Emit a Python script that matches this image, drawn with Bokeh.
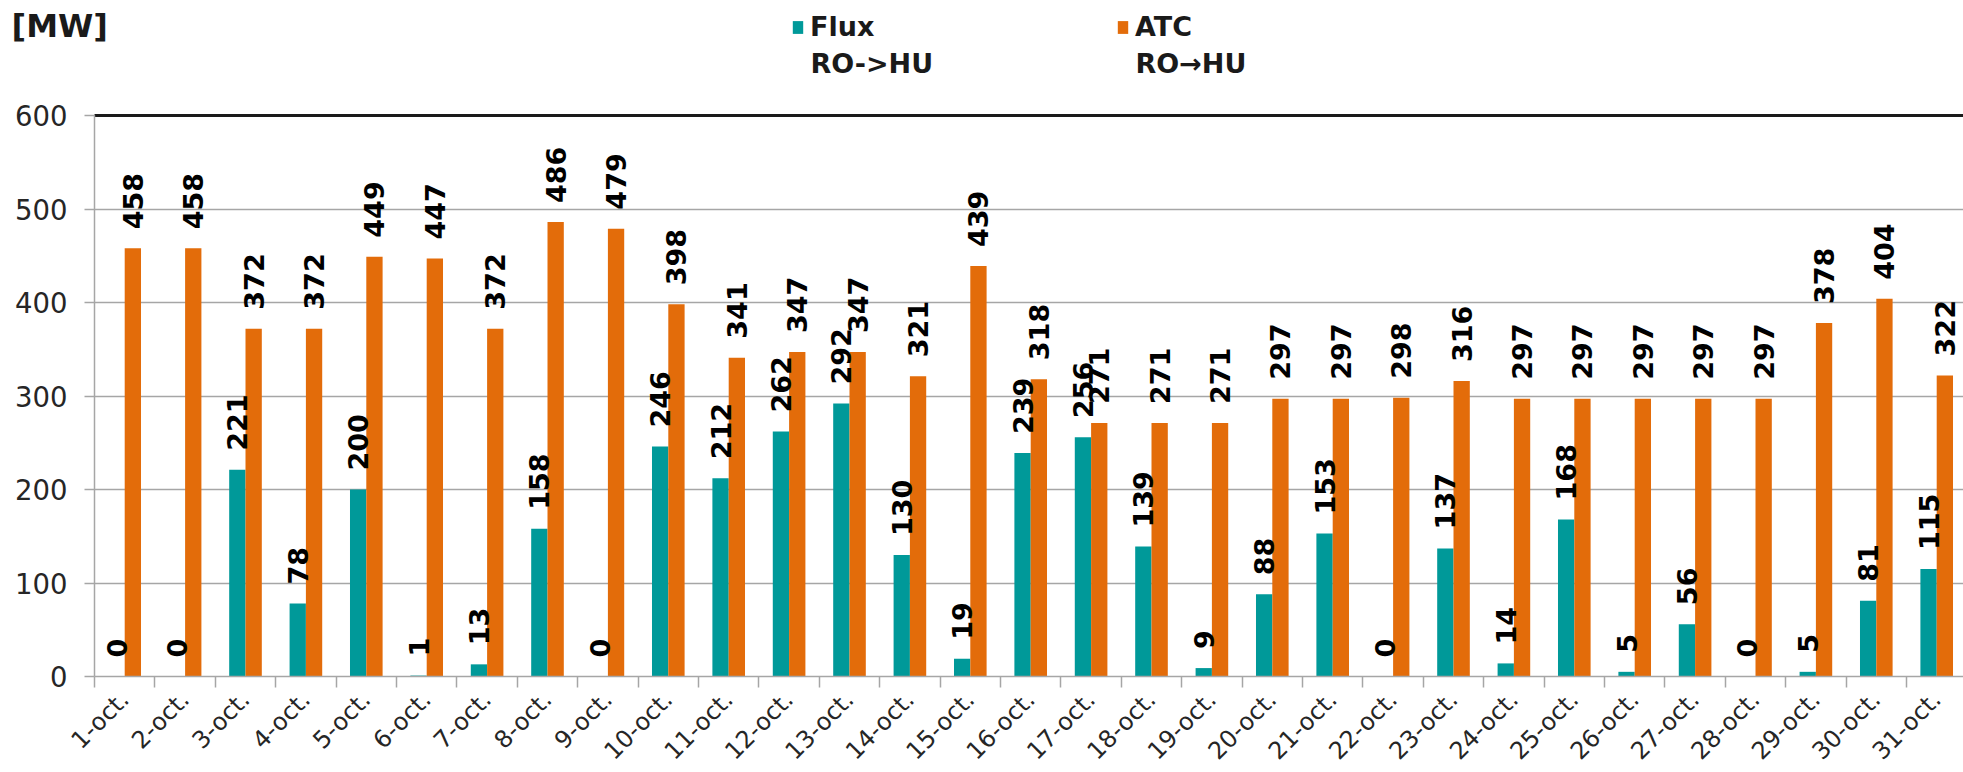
import math
from bokeh.plotting import figure
from bokeh.models import (Range1d, FixedTicker, Label, LabelSet,
                          ColumnDataSource, Legend, LegendItem)
from bokeh.core.properties import value
from bokeh.transform import dodge
from bokeh.embed import file_html
from bokeh.resources import INLINE

# ---- data ----
days = [f"{d}-oct." for d in range(1, 32)]
flux = [0, 0, 221, 78, 200, 1, 13, 158, 0, 246, 212, 262, 292, 130, 19, 239,
        256, 139, 9, 88, 153, 0, 137, 14, 168, 5, 56, 0, 5, 81, 115]
atc = [458, 458, 372, 372, 449, 447, 372, 486, 479, 398, 341, 347, 347, 321,
       439, 318, 271, 271, 271, 297, 297, 298, 316, 297, 297, 297, 297, 297,
       378, 404, 322]
y_ticks = [0, 100, 200, 300, 400, 500, 600]
unit_label = "[MW]"
series_names = ["Flux", "ATC"]
series_dirs = ["RO->HU", "RO\u2192HU"]

TEAL = "#009999"
ORANGE = "#E36C0A"
GRAY = "#A6A6A6"
FONT = "DejaVu Sans"
W, H = 1963, 772

n = len(days)
xc = [i + 0.5 for i in range(n)]
src = ColumnDataSource(dict(x=xc, day=days, flux=flux, atc=atc,
                            flux_lbl=[str(v) for v in flux],
                            atc_lbl=[str(v) for v in atc]))

# frame covers the whole canvas; axes are pinned at x=0 / y=0
px_per_cat = 60.4
x0_px = 94.0
px_per_mw = 561.0 / 600.0
y0_px = 96.0  # distance of y=0 from the bottom edge
x_start = -x0_px / px_per_cat
y_start = -y0_px / px_per_mw
p = figure(width=W, height=H, output_backend="svg", toolbar_location=None,
           x_range=Range1d(x_start, x_start + W / px_per_cat),
           y_range=Range1d(y_start, y_start + H / px_per_mw),
           min_border=0)
p.title.visible = False
p.outline_line_color = None
p.background_fill_color = "white"
p.border_fill_color = "white"

# horizontal grid lines limited to the plot area
grid_src = ColumnDataSource(dict(y=y_ticks[1:-1], x0=[0] * 5, x1=[n] * 5))
try:
    p.ygrid.cross_bounds = (0, n)
    p.ygrid.ticker = FixedTicker(ticks=y_ticks[1:-1])
    p.ygrid.grid_line_color = GRAY
    p.ygrid.grid_line_width = 1.5
except Exception:
    p.ygrid.visible = False
    p.segment(x0="x0", x1="x1", y0="y", y1="y", source=grid_src,
              line_color=GRAY, line_width=1.5)
p.xgrid.visible = False

# top border line of the plot area at the max tick
p.segment(x0=[0], x1=[n], y0=[y_ticks[-1]], y1=[y_ticks[-1]],
          line_color="#1a1a1a", line_width=3)

bw = 0.27
r1 = p.vbar(x=dodge("x", -bw / 2, range=p.x_range), top="flux", width=bw,
            source=src, fill_color=TEAL, line_color=None)
r2 = p.vbar(x=dodge("x", bw / 2, range=p.x_range), top="atc", width=bw,
            source=src, fill_color=ORANGE, line_color=None)

# value labels
for col, lbl, off in [("flux", "flux_lbl", -bw / 2), ("atc", "atc_lbl", bw / 2)]:
    p.add_layout(LabelSet(x=dodge("x", off, range=p.x_range), y=col, text=lbl,
                          source=src, angle=math.pi / 2, text_align="left",
                          text_baseline="middle", y_offset=19,
                          text_font=value(FONT), text_font_style="bold",
                          text_font_size="27px", text_color="black"))

# y axis
p.yaxis.fixed_location = 0
p.yaxis.bounds = (0, y_ticks[-1])
p.yaxis.ticker = FixedTicker(ticks=y_ticks)
p.yaxis.axis_line_color = GRAY
p.yaxis.axis_line_width = 1.5
p.yaxis.major_tick_line_color = GRAY
p.yaxis.major_tick_line_width = 1.5
p.yaxis.major_tick_out = 10
p.yaxis.major_tick_in = 0
p.yaxis.minor_tick_line_color = None
p.yaxis.major_label_text_font = FONT
p.yaxis.major_label_text_font_size = "27.5px"
p.yaxis.major_label_text_color = "#262626"
p.yaxis.major_label_standoff = 17

# x axis: tick marks at category boundaries, labels at category centres
p.xaxis.fixed_location = 0
p.xaxis.bounds = (0, n)
p.xaxis.ticker = FixedTicker(ticks=xc, minor_ticks=list(range(0, n + 1)))
p.xaxis.major_label_overrides = {v: d for v, d in zip(xc, days)}
p.xaxis.axis_line_color = GRAY
p.xaxis.axis_line_width = 1.5
p.xaxis.major_tick_out = 0
p.xaxis.major_tick_in = 0
p.xaxis.major_tick_line_color = None
p.xaxis.minor_tick_out = 11
p.xaxis.minor_tick_in = 0
p.xaxis.minor_tick_line_color = GRAY
p.xaxis.minor_tick_line_width = 1.5
p.xaxis.major_label_orientation = math.pi / 4
p.xaxis.major_label_text_font = FONT
p.xaxis.major_label_text_font_size = "24px"
p.xaxis.major_label_text_color = "#262626"
p.xaxis.major_label_standoff = 8

# unit label
p.add_layout(Label(x=11, y=H - 6, x_units="screen", y_units="screen",
                   text=unit_label, text_font=FONT, text_font_style="bold",
                   text_font_size="32px", text_baseline="top",
                   text_align="left", text_color="#1a1a1a"))

# legend (first line) + second line of each entry
leg_x, leg_top = 791, 10
legend = Legend(items=[LegendItem(label=series_names[0], renderers=[r1]),
                       LegendItem(label=series_names[1], renderers=[r2])],
                orientation="horizontal", location=(leg_x, H - leg_top - 32))
legend.label_text_font = FONT
legend.label_text_font_style = "bold"
legend.label_text_font_size = "27px"
legend.label_text_color = "#1a1a1a"
legend.glyph_width = 13
legend.glyph_height = 16
legend.label_standoff = 6
legend.label_width = 122
legend.spacing = 184
legend.padding = 0
legend.margin = 0
legend.border_line_color = None
legend.background_fill_alpha = 0
p.add_layout(legend, "center")

for k, txt in enumerate(series_dirs):
    p.add_layout(Label(x=leg_x + 19 + k * (13 + 6 + 122 + 184), y=H - 63,
                       x_units="screen", y_units="screen", text=txt,
                       text_font=FONT, text_font_style="bold",
                       text_font_size="27px", text_baseline="alphabetic",
                       text_align="left", text_color="#1a1a1a"))

open("out.html", "w").write(file_html(p, INLINE))
